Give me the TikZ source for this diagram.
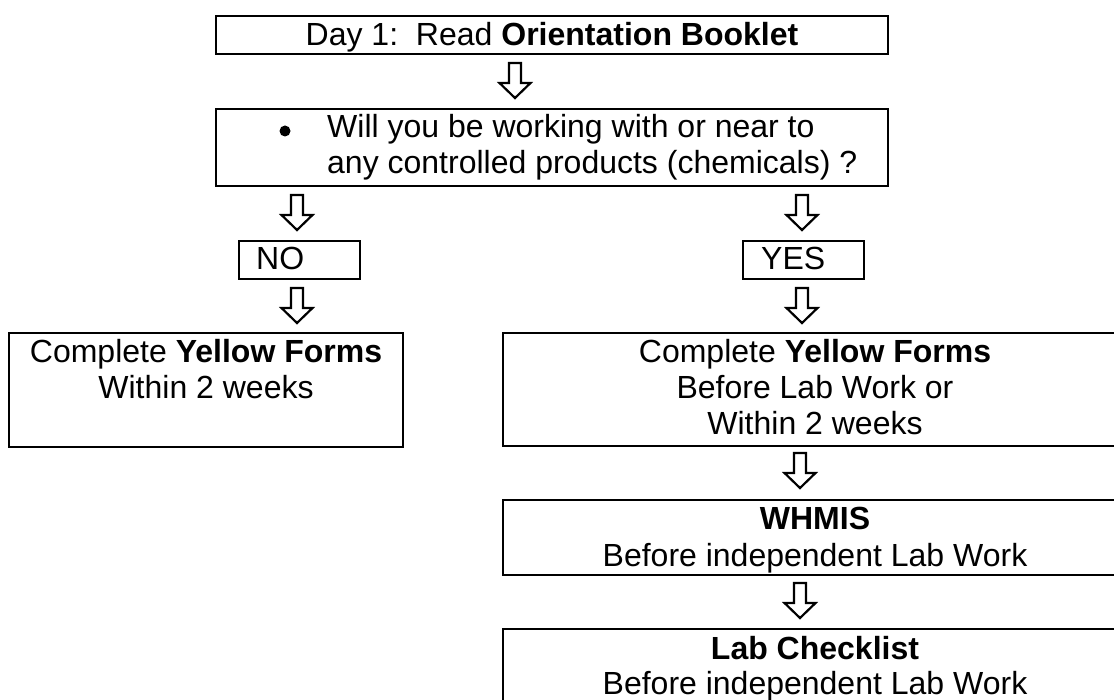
\documentclass[tikz,border=0pt]{standalone}
\usepackage{fontspec}
\setmainfont{Liberation Sans}
\tikzset{
  box/.style={draw, line width=2.6pt, inner sep=0pt, outer sep=0pt},
  txt/.style={font=\fontsize{32}{36}\selectfont, inner sep=0pt, anchor=base},
  txtl/.style={txt, anchor=base west},
  darrow/.pic={\draw[line width=2.2pt, fill=white, line join=miter]
      (-6,0) -- (6,0) -- (6,20) -- (15.5,20) -- (0,35) -- (-15.5,20) -- (-6,20) -- cycle;}
}
\begin{document}
\begin{tikzpicture}[x=1pt, y=-1pt]
\useasboundingbox (0,0) rectangle (1114,700);
% boxes
\node[box, minimum width=672pt, minimum height=38pt] (b1) at (552,35) {};
\node[box, minimum width=672pt, minimum height=77pt] (b2) at (552,147.5) {};
\node[box, minimum width=121pt, minimum height=38pt] (no) at (299.5,260) {};
\node[box, minimum width=121pt, minimum height=38pt] (yes) at (803.5,260) {};
\node[box, minimum width=394pt, minimum height=114pt] (lf) at (206,390) {};
\node[box, minimum width=624pt, minimum height=113pt] (rf) at (815,389.5) {};
\node[box, minimum width=624pt, minimum height=75pt] (wh) at (815,537.5) {};
\node[box, minimum width=624pt, minimum height=77pt] (lc) at (815,667.5) {};
% arrows
\pic at (515,63) {darrow};
\pic at (297,195) {darrow};
\pic at (802,195) {darrow};
\pic at (297,288) {darrow};
\pic at (802,288) {darrow};
\pic at (800,453) {darrow};
\pic at (800,583) {darrow};
% texts
\node[txt] (t1) at (552,46) {Day 1:\ \ Read \textbf{Orientation Booklet}};
\fill (285,131) circle (5.5);
\node[txtl] (t2a) at (327,138) {Will you be working with or near to};
\node[txtl] (t2b) at (327,174) {any controlled products (chemicals) ?};
\node[txtl] (tno) at (256,270) {NO};
\node[txtl] (tyes) at (761,270) {YES};
\node[txt] (tl1) at (206,363) {Complete \textbf{Yellow Forms}};
\node[txt] (tl2) at (206,399) {Within 2 weeks};
\node[txt] (tr1) at (815,363) {Complete \textbf{Yellow Forms}};
\node[txt] (tr2) at (815,399) {Before Lab Work or};
\node[txt] (tr3) at (815,435) {Within 2 weeks};
\node[txt] (tw1) at (815,529) {\textbf{WHMIS}};
\node[txt] (tw2) at (815,566) {Before independent Lab Work};
\node[txt] (tc1) at (815,659) {\textbf{Lab Checklist}};
\node[txt] (tc2) at (815,694) {Before independent Lab Work};
\end{tikzpicture}
\end{document}
